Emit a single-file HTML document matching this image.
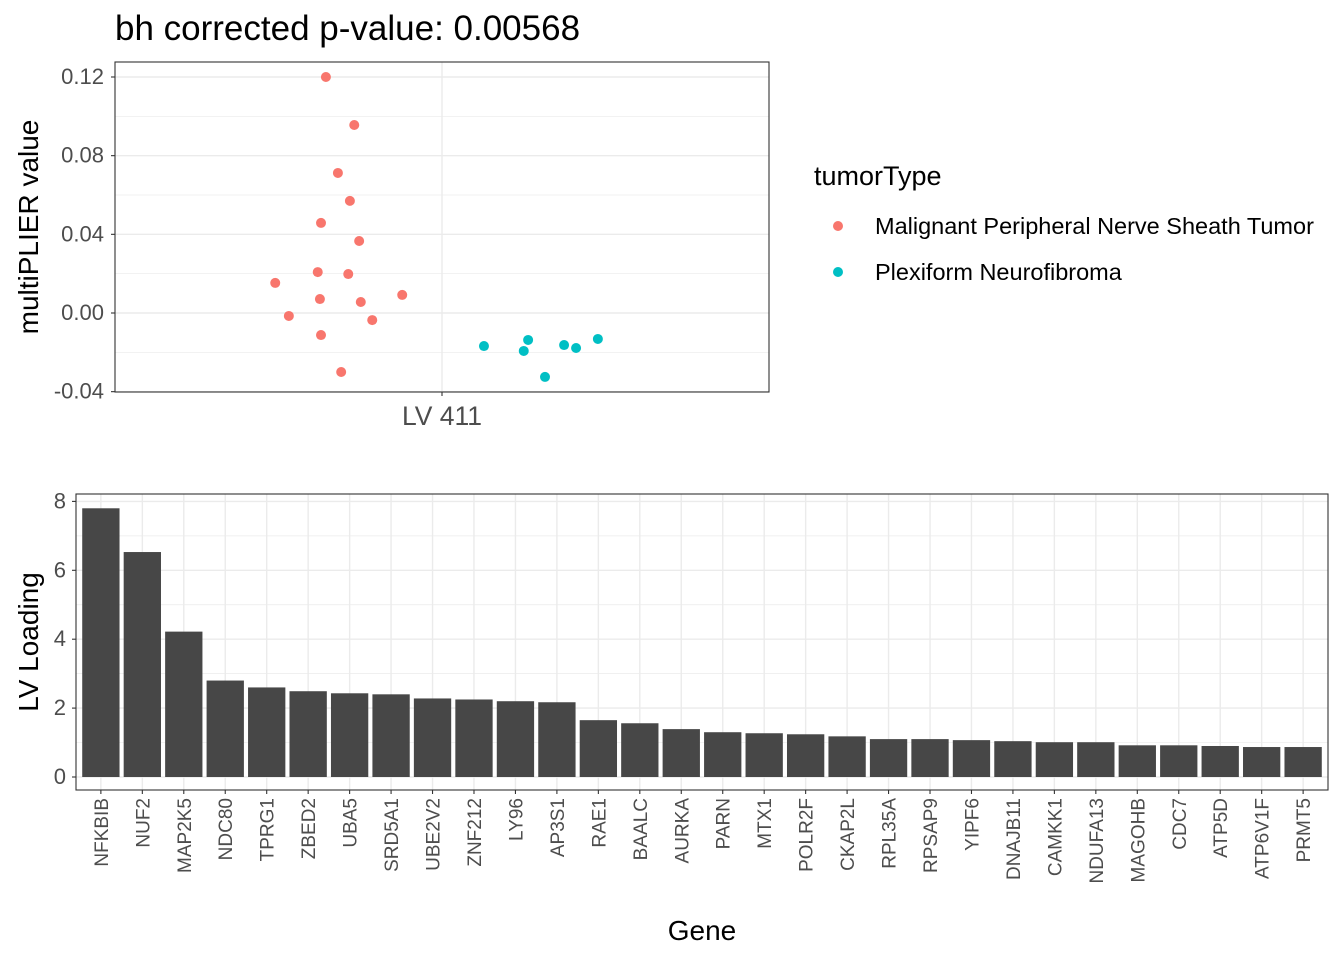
<!DOCTYPE html>
<html><head><meta charset="utf-8"><style>
body{margin:0;background:#fff;}
svg text{font-family:"Liberation Sans",Arial,sans-serif;}
</style></head><body>
<svg id="c" width="1344" height="960" xmlns="http://www.w3.org/2000/svg"></svg>
<script>
const topValsRed=[0.12,0.0956,0.0712,0.057,0.0458,0.0366,0.0153,0.0208,0.0198,0.0071,0.0056,0.0092,-0.0015,-0.0036,-0.0112,-0.030];
const topJitRed=[-0.213,-0.161,-0.191,-0.169,-0.222,-0.152,-0.306,-0.228,-0.172,-0.224,-0.149,-0.073,-0.281,-0.128,-0.222,-0.185];
const topValsTeal=[-0.0168,-0.0193,-0.0137,-0.0163,-0.0178,-0.0132,-0.0325];
const topJitTeal=[0.077,0.150,0.158,0.224,0.246,0.286,0.189];
const topTicks=[-0.04,0.00,0.04,0.08,0.12];
const topTickLabels=["-0.04","0.00","0.04","0.08","0.12"];
const genes=["NFKBIB","NUF2","MAP2K5","NDC80","TPRG1","ZBED2","UBA5","SRD5A1","UBE2V2","ZNF212","LY96","AP3S1","RAE1","BAALC","AURKA","PARN","MTX1","POLR2F","CKAP2L","RPL35A","RPSAP9","YIPF6","DNAJB11","CAMKK1","NDUFA13","MAGOHB","CDC7","ATP5D","ATP6V1F","PRMT5"];
const loadings=[7.8,6.53,4.22,2.80,2.60,2.49,2.43,2.40,2.28,2.25,2.20,2.17,1.65,1.56,1.39,1.30,1.27,1.24,1.18,1.10,1.10,1.07,1.04,1.01,1.01,0.92,0.92,0.90,0.87,0.87];
const botTicks=[0,2,4,6,8];

const svg=document.getElementById('c');
const NS='http://www.w3.org/2000/svg';
function mk(tag,at,parent){const e=document.createElementNS(NS,tag);for(const k in at)e.setAttribute(k,at[k]);(parent||svg).appendChild(e);return e;}
function txt(s,at,parent){const e=mk('text',at,parent);e.textContent=s;return e;}
const TICK=22, AXT=28;

// ---- top panel ----
const T={l:115,r:769,t:62,b:392};
const ty=v=>313+(0-v)*1966.7;
const tx=j=>442+j*545;
const gTop=mk('g',{});


for(let k=-2;k<=6;k++){const y=ty(k*0.02);const major=k%2===0;
 mk('line',{x1:T.l,x2:T.r,y1:y,y2:y,stroke:'#ebebeb','stroke-width':major?1.4:0.7},gTop);}
mk('line',{x1:442,x2:442,y1:T.t,y2:T.b,stroke:'#ebebeb','stroke-width':1.4},gTop);
topValsRed.forEach((v,i)=>{const c=mk('circle',{cx:tx(topJitRed[i]),cy:ty(v),r:5,fill:'#F8766D'},gTop);
 });
topValsTeal.forEach((v,i)=>{const c=mk('circle',{cx:tx(topJitTeal[i]),cy:ty(v),r:5,fill:'#00BFC4'},gTop);
 });
mk('rect',{x:T.l,y:T.t,width:T.r-T.l,height:T.b-T.t,fill:'none',stroke:'#333','stroke-width':1.1},gTop);
topTicks.forEach((v,i)=>{const y=ty(v);mk('line',{x1:T.l-4,x2:T.l,y1:y,y2:y,stroke:'#333','stroke-width':1.1},gTop);
 const t=txt(topTickLabels[i],{x:T.l-11,y:y+7,'font-size':TICK,fill:'#4d4d4d','text-anchor':'end'},gTop);
 });
mk('line',{x1:442,x2:442,y1:T.b,y2:T.b+4,stroke:'#333','stroke-width':1.1},gTop);
let t=txt('LV 411',{x:442,y:425,'font-size':26.5,fill:'#4d4d4d','text-anchor':'middle'});
t=txt('multiPLIER value',{x:0,y:0,'font-size':AXT,fill:'#000','text-anchor':'middle',transform:'translate(38,227) rotate(-90)'});
t=txt('bh corrected p-value: 0.00568',{x:115,y:40,'font-size':35,fill:'#000'});
// legend
t=txt('tumorType',{x:814,y:185,'font-size':27,fill:'#000'});
const lg=[['Malignant Peripheral Nerve Sheath Tumor','#F8766D',226],['Plexiform Neurofibroma','#00BFC4',272]];
lg.forEach(([s,c,y])=>{const g=mk('g',{});
 mk('circle',{cx:838,cy:y,r:5,fill:c},g);txt(s,{x:875,y:y+8,'font-size':23.5,fill:'#000'},g);});

// ---- bottom panel ----
const B={l:76,r:1328,t:494,b:790};
const by=v=>777+(0-v)*34.45;
const bw=(B.r-B.l)/30.2;
const bx=i=>B.l+(i+0.6)*bw;
const gB=mk('g',{});


for(let v=0;v<=8;v+=1){const y=by(v);mk('line',{x1:B.l,x2:B.r,y1:y,y2:y,stroke:'#ebebeb','stroke-width':v%2===0?1.4:0.7},gB);}
genes.forEach((g,i)=>mk('line',{x1:bx(i),x2:bx(i),y1:B.t,y2:B.b,stroke:'#ebebeb','stroke-width':1.4},gB));
loadings.forEach((v,i)=>{const r=mk('rect',{x:bx(i)-0.45*bw,y:by(v),width:0.9*bw,height:by(0)-by(v),fill:'#474747'},gB);
 });
mk('rect',{x:B.l,y:B.t,width:B.r-B.l,height:B.b-B.t,fill:'none',stroke:'#333','stroke-width':1.1},gB);
botTicks.forEach(v=>{const y=by(v);mk('line',{x1:B.l-4,x2:B.l,y1:y,y2:y,stroke:'#333','stroke-width':1.1},gB);
 const t=txt(String(v),{x:B.l-10,y:y+7,'font-size':TICK,fill:'#4d4d4d','text-anchor':'end'},gB);
 });
genes.forEach((g,i)=>{const x=bx(i);mk('line',{x1:x,x2:x,y1:B.b,y2:B.b+4,stroke:'#333','stroke-width':1.1},gB);
 const t=txt(g,{x:0,y:0,'font-size':19,fill:'#4d4d4d','text-anchor':'end',transform:`translate(${x+7},${B.b+8}) rotate(-90)`},gB);
 });
t=txt('LV Loading',{x:0,y:0,'font-size':AXT,fill:'#000','text-anchor':'middle',transform:'translate(38,642) rotate(-90)'});
t=txt('Gene',{x:702,y:940,'font-size':AXT,fill:'#000','text-anchor':'middle'});
</script>
</body></html>
